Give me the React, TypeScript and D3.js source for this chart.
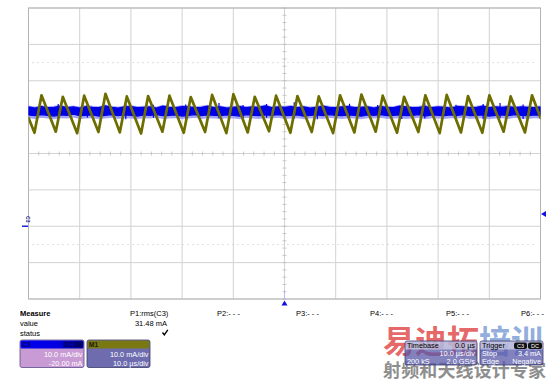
import React from "react";
import * as d3 from "d3";

// ---- Data ----
// time axis: µs, -50..50 (10 µs/div); vertical: mA, -20..60 (10 mA/div, offset -20 mA)
const timeTicks = [-50, -40, -30, -20, -10, 0, 10, 20, 30, 40, 50];
const ampTicks = [-20, -10, 0, 10, 20, 30, 40, 50, 60];
const dottedLevels = [45, -5];

// M1 (olive) triangle waveform vertices
const m1Start = { t: -50, v: 29.8 };
const m1End = { t: 50, v: 29.8 };
const m1TroughT = [-48.83, -44.67, -40.5, -36.34, -32.17, -28.01, -23.84, -19.68, -15.51, -11.35, -7.18, -3.02, 1.15, 5.32, 9.48, 13.65, 17.81, 21.98, 26.14, 30.31, 34.47, 38.64, 42.8, 46.97];
const m1TroughV = [25.7, 26.0, 25.6, 25.9, 25.8, 25.5, 26.0, 25.7, 25.9, 25.6, 25.8, 26.1, 25.7, 25.9, 25.6, 25.8, 26.0, 25.7, 25.9, 25.6, 25.8, 25.7, 26.0, 25.8];
const m1PeakT = [-47.46, -43.3, -39.13, -34.97, -30.8, -26.64, -22.47, -18.31, -14.14, -9.98, -5.81, -1.65, 2.52, 6.69, 10.85, 15.02, 19.18, 23.35, 27.51, 31.68, 35.84, 40.01, 44.17, 48.34];
const m1PeakV = [36.0, 35.6, 35.9, 36.4, 35.7, 35.8, 35.9, 35.5, 36.1, 36.3, 35.6, 35.9, 35.8, 35.7, 36.0, 36.2, 35.9, 35.6, 36.0, 36.1, 35.8, 36.0, 35.7, 36.0];

// C3 (blue) noisy band envelope, sampled every 1.25 µs
const c3Top = [
  32.8, 32.5, 32.9, 32.6, 32.7, 33.0, 32.6, 32.8, 32.5, 32.9,
  32.7, 32.6, 33.1, 32.7, 32.5, 32.8, 32.9, 32.6, 32.7, 32.8,
  32.5, 33.0, 32.7, 32.6, 32.9, 32.8, 32.6, 32.7, 33.0, 32.6,
  32.8, 32.5, 32.7, 32.9, 32.6, 32.8, 32.7, 33.1, 32.6, 32.8,
  32.7, 32.9, 32.6, 32.8, 32.5, 32.7, 33.0, 32.7, 32.6, 32.8,
  32.9, 32.6, 32.7, 32.8, 32.5, 32.9, 32.7, 32.6, 33.0, 32.8,
  32.6, 32.7, 32.9, 32.6, 32.8, 32.7, 32.5, 32.9, 32.8, 32.6,
  32.7, 33.0, 32.6, 32.8, 32.7, 32.9, 32.6, 32.8, 32.7, 32.6, 32.8,
];
const c3Bottom = [
  30.6, 30.4, 30.7, 30.5, 30.3, 30.6, 30.5, 30.8, 30.4, 30.5,
  30.6, 30.3, 30.5, 30.7, 30.4, 30.6, 30.5, 30.3, 30.6, 30.5,
  30.7, 30.4, 30.5, 30.6, 30.3, 30.5, 30.7, 30.4, 30.6, 30.5,
  30.4, 30.6, 30.5, 30.3, 30.7, 30.5, 30.4, 30.6, 30.5, 30.7,
  30.4, 30.5, 30.6, 30.3, 30.5, 30.6, 30.4, 30.7, 30.5, 30.4,
  30.6, 30.5, 30.3, 30.6, 30.5, 30.7, 30.4, 30.5, 30.6, 30.4,
  30.5, 30.7, 30.3, 30.6, 30.5, 30.4, 30.6, 30.5, 30.7, 30.4,
  30.5, 30.6, 30.3, 30.5, 30.6, 30.4, 30.7, 30.5, 30.4, 30.6, 30.5,
];
const c3SpikeT = [-44.2, -38.5, -31.0, -25.6, -19.3, -12.8, -8.1, -3.5, 1.9, 6.4, 12.7, 18.2, 22.9, 27.4, 33.5, 38.8, 42.1, 46.6];
const c3SpikeHi = [33.6, 33.3, 33.8, 33.4, 33.5, 33.9, 33.3, 33.6, 34.1, 33.4, 33.7, 33.3, 33.5, 33.8, 33.4, 33.6, 33.9, 33.5];
const c3SpikeLo = [29.6, 29.9, 29.4, 29.8, 29.5, 29.7, 29.3, 29.8, 29.6, 29.4, 29.7, 29.9, 29.5, 29.6, 29.8, 29.4, 29.7, 29.5];

const triggerLevel = 3.4;
const c3Zero = 0;

const measureLabels = ["P1:rms(C3)", "P2:- - -", "P3:- - -", "P4:- - -", "P5:- - -", "P6:- - -"];
const measureValue = "31.48 mA";

const FONT = "'Liberation Sans', Arial, sans-serif";

export default function App() {
  const W = 547, H = 382;
  const x = d3.scaleLinear().domain([-50, 50]).range([28.5, 540.5]);
  const y = d3.scaleLinear().domain([-20, 60]).range([299, 8]);

  const m1Pts: [number, number][] = [[m1Start.t, m1Start.v]];
  m1PeakT.forEach((_, i) => {
    m1Pts.push([m1TroughT[i], m1TroughV[i]]);
    m1Pts.push([m1PeakT[i], m1PeakV[i]]);
  });
  m1Pts.push([m1End.t, m1End.v]);
  const line = d3.line<[number, number]>().x((d) => x(d[0])).y((d) => y(d[1]));

  const sampleT = d3.range(c3Top.length).map((i) => -50 + i * 1.25);
  const band = d3
    .area<number>()
    .x((_, i) => x(sampleT[i]))
    .y0((_, i) => y(c3Bottom[i]))
    .y1((_, i) => y(c3Top[i]));
  const halo = d3
    .area<number>()
    .x((_, i) => x(sampleT[i]))
    .y0((_, i) => y(c3Bottom[i] - 0.9))
    .y1((_, i) => y(c3Top[i] + 0.4));

  const minorT = d3.range(-50, 50.01, 2);
  const minorV = d3.range(-20, 60.01, 2);

  const cx = x(0), cy = y(20);
  const mPos = [130, 217, 296, 370, 446, 521];

  return (
    <svg width={W} height={H} style={{ position: "absolute", left: 0, top: 0, background: "#fff" }} fontFamily={FONT}>
      <rect x={0} y={0} width={W} height={H} fill="#fff" />
      <defs>
        <clipPath id="plot">
          <rect x={x(-50)} y={y(60)} width={x(50) - x(-50)} height={y(-20) - y(60)} />
        </clipPath>
        <linearGradient id="c3h" x1="0" x2="1">
          <stop offset="0" stopColor="#0000f0" />
          <stop offset="0.6" stopColor="#0000e0" />
          <stop offset="1" stopColor="#000090" />
        </linearGradient>
      </defs>

      {/* grid */}
      {timeTicks.map((t) => (
        <line key={"gx" + t} x1={x(t)} x2={x(t)} y1={y(60)} y2={y(-20)} stroke="#d2d2d2" strokeWidth={1} />
      ))}
      {ampTicks.map((v) => (
        <line key={"gy" + v} x1={x(-50)} x2={x(50)} y1={y(v)} y2={y(v)} stroke="#d2d2d2" strokeWidth={1} />
      ))}
      {dottedLevels.map((v) => (
        <line key={"dl" + v} x1={x(-50) + 4} x2={x(50) - 4} y1={y(v)} y2={y(v)} stroke="#c4c4c4" strokeWidth={1} strokeDasharray="1 4" />
      ))}
      {/* center ticks */}
      {minorT.map((t) => (
        <line key={"mt" + t} x1={x(t)} x2={x(t)} y1={cy - 2} y2={cy + 2} stroke="#bdbdbd" strokeWidth={0.8} />
      ))}
      {minorV.map((v) => (
        <line key={"mv" + v} x1={cx - 2} x2={cx + 2} y1={y(v)} y2={y(v)} stroke="#bdbdbd" strokeWidth={0.8} />
      ))}
      <rect x={x(-50)} y={y(60)} width={x(50) - x(-50)} height={y(-20) - y(60)} fill="none" stroke="#b4b4b4" strokeWidth={1} />

      {/* traces */}
      <g clipPath="url(#plot)">
        <path d={halo(c3Top) || ""} fill="#8c8cff" opacity={0.75} />
        <path d={band(c3Top) || ""} fill="#0000e6" stroke="#0000e6" strokeWidth={1.2} />
        {c3SpikeT.map((t, i) => (
          <line key={"sp" + i} x1={x(t)} x2={x(t)} y1={y(c3SpikeHi[i])} y2={y(c3SpikeLo[i])} stroke="#0000e6" strokeWidth={1.2} />
        ))}
        <path d={line(m1Pts) || ""} fill="none" stroke="#6e6e00" strokeWidth={2.7} strokeLinejoin="round" strokeLinecap="round" />
      </g>

      {/* markers */}
      <line x1={22} x2={28} y1={y(c3Zero)} y2={y(c3Zero)} stroke="#2020e0" strokeWidth={1.5} />
      <text x={0} y={0} fontSize={5} fill="#101080" fontWeight="bold" transform={`translate(25.5,${y(c3Zero) - 7}) rotate(90)`} textAnchor="middle">
        C3
      </text>
      <path d={`M${x(50) + 0.5},${y(triggerLevel)} l5,-3 v6 z`} fill="#1010e0" />
      <line x1={x(0)} x2={x(0)} y1={290} y2={300} stroke="#b0b0ff" strokeWidth={0.8} />
      <path d={`M${x(0)},${300.5} l-3,5 h6 z`} fill="#1010e0" />

      {/* measure table */}
      <text x={20} y={316} fontSize={7.5} fontWeight="bold" fill="#000">Measure</text>
      <text x={20} y={326} fontSize={7.5} fill="#000">value</text>
      <text x={20} y={336} fontSize={7.5} fill="#000">status</text>
      {measureLabels.map((m, i) => (
        <text key={m + i} x={mPos[i]} y={316} fontSize={7.5} fill="#000">{m}</text>
      ))}
      <text x={167} y={326} fontSize={7.5} textAnchor="end" fill="#000">{measureValue}</text>
      <path d="M162.5,332.5 l1.8,2.3 l3.5,-5" fill="none" stroke="#000" strokeWidth={1.4} />

      {/* channel boxes */}
      <g>
        <rect x={20} y={340} width={64} height={27.5} rx={2} fill="#c99bd4" stroke="#5a4a8a" strokeWidth={0.8} />
        <rect x={20.5} y={340.5} width={63} height={8} rx={1.5} fill="url(#c3h)" />
        <text x={22} y={347} fontSize={6.5} fill="#000050" fontWeight="bold">C3</text>
        <text x={82} y={347} fontSize={6.5} fill="#000040" textAnchor="end" fontWeight="bold">DC1M</text>
        <text x={82.5} y={356.5} fontSize={7.3} fill="#fff" textAnchor="end">10.0 mA/div</text>
        <text x={82.5} y={365.5} fontSize={7.3} fill="#fff" textAnchor="end">-20.00 mA</text>

        <rect x={87} y={340} width={63} height={27.5} rx={2} fill="#6e6cae" stroke="#3c3c6c" strokeWidth={0.8} />
        <rect x={87.5} y={340.5} width={62} height={8} rx={1.5} fill="#7a7812" />
        <text x={89} y={347} fontSize={6.5} fill="#1a1a00" fontWeight="bold">M1</text>
        <text x={148.5} y={356.5} fontSize={7.3} fill="#fff" textAnchor="end">10.0 mA/div</text>
        <text x={148.5} y={365.5} fontSize={7.3} fill="#fff" textAnchor="end">10.0 µs/div</text>
      </g>

      {/* watermark */}
      <text x={383} y={353} fontSize={32} fontFamily="'Noto Sans CJK SC', sans-serif" fontWeight="bold">
        <tspan fill="#e0403f" fillOpacity={0.8}>易迪拓</tspan>
        <tspan fill="#7f9fd6" fillOpacity={0.85}>培训</tspan>
      </text>
      <text x={383} y={377} fontSize={18} fontFamily="'Noto Sans CJK SC', sans-serif" fontWeight="bold" fill="#8e8e8e" textLength={163}>
        射频和天线设计专家
      </text>

      {/* timebase / trigger boxes */}
      <g fontSize={7.3}>
        <rect x={405} y={341} width={72} height={24} rx={2} fill="#5858a8" fillOpacity={0.75} stroke="#3a3a6a" strokeWidth={0.8} />
        <rect x={405.5} y={341.5} width={71} height={8} fill="#f0f0f8" fillOpacity={0.55} />
        <text x={407} y={347.8} fill="#000">Timebase</text>
        <text x={475} y={347.8} fill="#000" textAnchor="end">0.0 µs</text>
        <text x={475} y={355.8} fill="#fff" textAnchor="end">10.0 µs/div</text>
        <text x={407} y={363.6} fill="#fff">200 kS</text>
        <text x={475} y={363.6} fill="#fff" textAnchor="end">2.0 GS/s</text>

        <rect x={480} y={341} width={63} height={24} rx={2} fill="#5858a8" fillOpacity={0.75} stroke="#3a3a6a" strokeWidth={0.8} />
        <rect x={480.5} y={341.5} width={62} height={8} fill="#f0f0f8" fillOpacity={0.55} />
        <text x={482} y={347.8} fill="#000">Trigger</text>
        <rect x={514} y={342.5} width={13} height={6.5} rx={2} fill="#111" />
        <rect x={528} y={342.5} width={14} height={6.5} rx={2} fill="#111" />
        <text x={520.5} y={348} fill="#fff" fontSize={5.5} textAnchor="middle">C3</text>
        <text x={535} y={348} fill="#fff" fontSize={5.5} textAnchor="middle">DC</text>
        <text x={482} y={355.8} fill="#fff">Stop</text>
        <text x={541} y={355.8} fill="#fff" textAnchor="end">3.4 mA</text>
        <text x={482} y={363.6} fill="#fff">Edge</text>
        <text x={541} y={363.6} fill="#fff" textAnchor="end">Negative</text>
      </g>
    </svg>
  );
}
